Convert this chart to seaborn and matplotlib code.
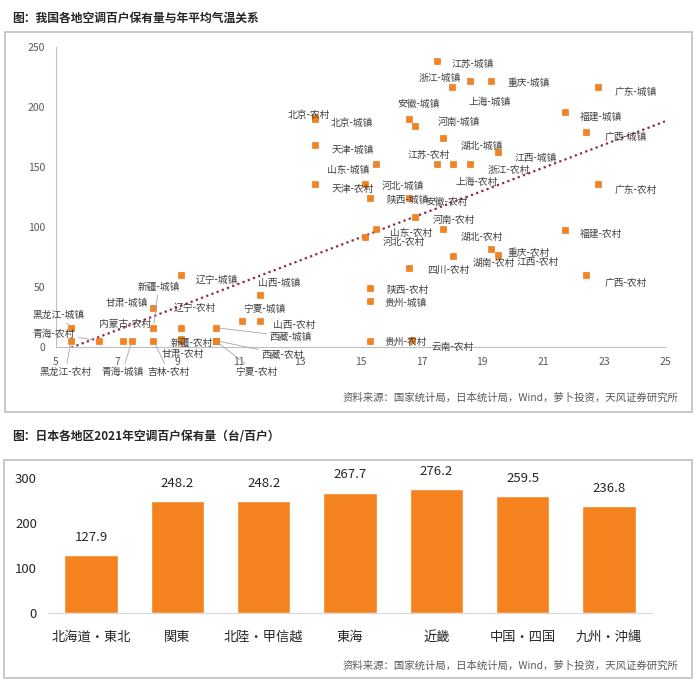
import numpy as np
import pandas as pd
import matplotlib
matplotlib.use("Agg")
import matplotlib.pyplot as plt
from matplotlib.patches import Rectangle
import seaborn as sns

# ---- data: 我国各地空调百户保有量与年平均气温 ----
urban_names = ["江苏", "浙江", "上海", "重庆", "广东", "安徽", "河南", "福建", "北京",
               "广西", "湖北", "天津", "山东", "江西", "河北", "陕西", "辽宁", "新疆",
               "山西", "甘肃", "宁夏", "黑龙江", "青海", "西藏", "贵州"]
urban_temp = [17.5, 18.0, 18.6, 19.3, 22.8, 16.6, 16.8, 21.7, 13.5,
              22.4, 17.7, 13.5, 15.5, 19.5, 15.15, 15.3, 9.1, 8.2,
              11.7, 8.2, 11.1, 5.5, 7.5, 10.25, 15.3]
urban_ac = [238.6, 216.9, 221.9, 221.9, 216.9, 190.0, 184.2, 195.6, 191.7,
            179.4, 173.9, 168.3, 152.3, 162.9, 135.8, 124.4, 60.0, 16.1,
            43.3, 32.8, 21.9, 16.1, 5.3, 16.1, 38.3]

rural_names = ["北京", "天津", "江苏", "上海", "浙江", "安徽", "广东", "河南", "山东",
               "河北", "湖北", "福建", "重庆", "湖南", "江西", "四川", "广西", "陕西",
               "辽宁", "内蒙古", "山西", "新疆", "甘肃", "西藏", "宁夏", "黑龙江",
               "青海", "吉林", "贵州", "云南"]
rural_temp = [13.5, 13.5, 17.5, 18.05, 18.6, 16.6, 22.8, 16.8, 15.5,
              15.15, 17.7, 21.7, 19.3, 18.05, 19.5, 16.6, 22.4, 15.3,
              9.1, 7.2, 11.7, 9.1, 9.1, 10.25, 10.25, 5.5,
              6.4, 8.2, 15.3, 16.7]
rural_ac = [189.8, 135.8, 152.3, 152.3, 152.3, 124.4, 135.6, 108.1, 98.1,
            91.9, 98.1, 97.5, 81.7, 76.1, 76.4, 65.6, 60.0, 49.4,
            16.1, 5.3, 21.9, 6.4, 5.0, 5.3, 5.0, 5.3,
            5.3, 5.3, 5.3, 5.8]

# linear trendline as drawn in the source chart (end points)
trend_temp = [5.5, 25]
trend_ac = [-0.5, 188]

# ---- data: 日本各地区2021年空调百户保有量 ----
jp_regions = ["北海道・東北", "関東", "北陸・甲信越", "東海", "近畿", "中国・四国", "九州・沖縄"]
jp_ac = [127.9, 248.2, 248.2, 267.7, 276.2, 259.5, 236.8]

# label placement (pixels: left edge / vertical centre relative to the marker)
label_pos = {
    "江苏-城镇": (15, 3), "浙江-城镇": (-33, -9), "上海-城镇": (-2, 21), "重庆-城镇": (16, 2),
    "广东-城镇": (17, 5), "安徽-城镇": (-12, -15), "河南-城镇": (22, -4), "福建-城镇": (15, 4),
    "北京-城镇": (16, 6), "广西-城镇": (19, 5), "湖北-城镇": (18, 8), "天津-城镇": (17, 5),
    "山东-城镇": (-49, 6), "江西-城镇": (17, 6), "河北-城镇": (17, 2), "陕西-城镇": (17, 2),
    "辽宁-城镇": (15, 5), "新疆-城镇": (-16, -41), "山西-城镇": (-2, -12), "甘肃-城镇": (-48, -5),
    "宁夏-城镇": (2, -12), "黑龙江-城镇": (-39, -13), "青海-城镇": (-31, 31), "西藏-城镇": (54, 9),
    "贵州-城镇": (15, 2),
    "北京-农村": (-27, -4), "天津-农村": (17, 5), "江苏-农村": (-29, -9), "上海-农村": (2, 18),
    "浙江-农村": (18, 6), "安徽-农村": (16, 4), "广东-农村": (17, 6), "河南-农村": (17, 3),
    "山东-农村": (14, 4), "河北-农村": (18, 5), "湖北-农村": (18, 8), "福建-农村": (15, 4),
    "重庆-农村": (16, 4), "湖南-农村": (19, 7), "江西-农村": (19, 7), "四川-农村": (18, 2),
    "广西-农村": (19, 8), "陕西-农村": (17, 2), "辽宁-农村": (-7, -20), "内蒙古-农村": (-24, -17),
    "山西-农村": (13, 4), "新疆-农村": (-10, 4), "甘肃-农村": (-19, 13), "西藏-农村": (46, 14),
    "宁夏-农村": (19, 31), "黑龙江-农村": (-32, 31), "青海-农村": (-66, -7), "吉林-农村": (-6, 31),
    "贵州-农村": (15, 1), "云南-农村": (19, 7),
}

df = pd.concat([
    pd.DataFrame({"name": [n + "-城镇" for n in urban_names], "temp": urban_temp, "ac": urban_ac}),
    pd.DataFrame({"name": [n + "-农村" for n in rural_names], "temp": rural_temp, "ac": rural_ac}),
], ignore_index=True)
jp = pd.DataFrame({"region": jp_regions, "ac": jp_ac})

sns.set_style("white")
plt.rcParams["font.family"] = ["Noto Sans CJK SC", "DejaVu Sans"]

orange = "#F4821F"
W, H = 700, 688


def box(x0, y0, x1, y1):
    # pixel box (from top-left) -> figure fraction
    return [x0 / W, 1 - y1 / H, (x1 - x0) / W, (y1 - y0) / H]


fig = plt.figure(figsize=(7, 6.88), dpi=100)

# panel frames
for x0, y0, x1, y1 in [(5, 32, 692, 412), (4, 460, 692, 678)]:
    b = box(x0, y0, x1, y1)
    fig.add_artist(Rectangle((b[0], b[1]), b[2], b[3], transform=fig.transFigure,
                             fill=False, edgecolor="#BFBFBF", lw=1.2))

fig.text(12 / W, 1 - 18 / H, "图：我国各地空调百户保有量与年平均气温关系",
         fontsize=8.5, fontweight="bold", va="center")
fig.text(12 / W, 1 - 437 / H, "图：日本各地区2021年空调百户保有量（台/百户）",
         fontsize=8.5, fontweight="bold", va="center")
src = "资料来源：国家统计局，日本统计局，Wind，萝卜投资，天风证券研究所"
fig.text(678 / W, 1 - 398 / H, src, fontsize=7.5, color="#595959", ha="right", va="center")
fig.text(678 / W, 1 - 666 / H, src, fontsize=7.5, color="#595959", ha="right", va="center")

# ---- scatter ----
ax1 = fig.add_axes(box(56, 47, 665, 347))
sns.scatterplot(data=df, x="temp", y="ac", marker="s", s=24, color=orange,
                edgecolor="#E06F10", linewidth=0.4, ax=ax1, zorder=3)

sns.lineplot(x=trend_temp, y=trend_ac, linestyle=(0, (1, 1.5)), color="#8E2A4A",
             lw=1.6, ax=ax1, zorder=2)

for name, x, y in zip(df["name"], df["temp"], df["ac"]):
    dx, dy = label_pos[name]
    far = abs(dx) > 28 or abs(dy) > 25
    ax1.annotate(name, (x, y), xytext=(dx, -dy), textcoords="offset pixels",
                 ha="left", va="center", fontsize=7, color="#404040", zorder=4,
                 annotation_clip=False,
                 arrowprops=dict(arrowstyle="-", color="#A6A6A6", lw=0.6,
                                 shrinkA=0, shrinkB=3) if far else None)

ax1.set_xlim(5, 25)
ax1.set_ylim(0, 250)
ax1.set_xticks(range(5, 26, 2))
ax1.set_yticks(range(0, 251, 50))
ax1.set_xlabel("")
ax1.set_ylabel("")
ax1.tick_params(length=0, labelsize=7.5, labelcolor="#595959")
ax1.tick_params(axis="x", pad=7)
ax1.tick_params(axis="y", pad=8)
sns.despine(ax=ax1)
for s in ["left", "bottom"]:
    ax1.spines[s].set_color("#BFBFBF")

# ---- bars ----
ax2 = fig.add_axes(box(48, 478, 652, 613))
sns.barplot(data=jp, x="region", y="ac", color=orange, saturation=1, width=0.62, ax=ax2)
for c in ax2.containers:
    ax2.bar_label(c, fmt="%.1f", padding=8, fontsize=9.5, color="#262626")
ax2.set_ylim(0, 300)
ax2.set_yticks([0, 100, 200, 300])
ax2.set_xlabel("")
ax2.set_ylabel("")
ax2.tick_params(length=0, labelsize=9.5, labelcolor="#262626")
ax2.tick_params(axis="x", pad=13)
ax2.tick_params(axis="y", pad=8)
sns.despine(ax=ax2, left=True)
ax2.spines["bottom"].set_color("#D9D9D9")

fig.savefig("out.png", dpi=100)
